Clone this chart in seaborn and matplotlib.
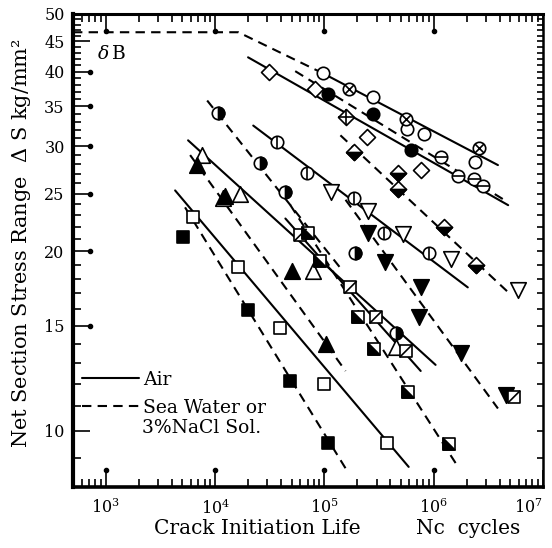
import numpy as np
import pandas as pd
import matplotlib
matplotlib.use("Agg")
import matplotlib.pyplot as plt
from matplotlib.markers import MarkerStyle
from matplotlib.path import Path
from matplotlib.lines import Line2D
from matplotlib.ticker import FixedLocator, FixedFormatter, NullFormatter, LogLocator
from matplotlib.transforms import ScaledTranslation
import seaborn as sns

# ---------------- test results: crack initiation life Nc vs stress range ----------------
open_circle_N = [9.6e4, 2.76e5, 5.65e5, 8.1e5, 2.38e6]
open_circle_S = [39.8, 36.3, 32.1, 31.4, 28.2]
cross_circle_N = [1.66e5, 5.54e5, 2.59e6]
cross_circle_S = [37.4, 33.3, 29.8]
solid_circle_N = [1.07e5, 2.76e5, 6.15e5]
solid_circle_S = [36.7, 34.0, 29.6]
open_diamond_N = [3.13e4, 8.26e4, 2.43e5, 7.6e5]
open_diamond_S = [39.9, 37.5, 31.1, 27.4]
cross_diamond_N = [1.56e5]
cross_diamond_S = [33.6]
half_diamond_N = [1.85e5, 4.67e5, 4.67e5, 1.24e6, 2.43e6]
half_diamond_S = [29.4, 27.1, 25.4, 22.0, 19.0]
hbar_circle_N = [1.16e6, 1.66e6, 2.33e6, 2.82e6]
hbar_circle_S = [28.8, 26.7, 26.4, 25.7]
half_circle_N = [1.07e4, 2.59e4, 4.39e4, 1.92e5, 4.48e5]
half_circle_S = [34.1, 28.1, 25.1, 19.9, 14.6]
vbar_circle_N = [3.71e4, 6.98e4, 1.85e5, 3.48e5, 8.99e5]
vbar_circle_S = [30.5, 27.1, 24.6, 21.5, 19.9]
open_tri_down_N = [1.14e5, 2.53e5, 5.2e5, 1.43e6, 5.9e6]
open_tri_down_S = [25.1, 23.4, 21.4, 19.4, 17.2]
solid_tri_down_N = [2.48e5, 3.55e5, 7.6e5, 7.28e5, 1.77e6, 4.58e6]
solid_tri_down_S = [21.5, 19.2, 17.4, 15.5, 13.5, 11.5]
open_tri_up_N = [7.6e3, 1.18e4, 1.7e4, 7.93e4, 4.48e5]
open_tri_up_S = [29.0, 24.6, 25.0, 18.5, 13.8]
solid_tri_up_N = [6.84e3, 1.24e4, 5.08e4, 1.04e5]
solid_tri_up_S = [27.9, 24.8, 18.5, 14.0]
open_square_N = [6.28e3, 1.63e4, 3.95e4, 1.0e5, 3.7e5]
open_square_S = [22.8, 18.8, 14.9, 12.0, 9.55]
solid_square_N = [5.09e3, 2.01e4, 4.88e4, 1.07e5]
solid_square_S = [21.1, 15.95, 12.1, 9.55]
slash_square_N = [6.02e4, 1.73e5, 2.94e5, 5.54e5, 5.42e6]
slash_square_S = [21.3, 17.4, 15.5, 13.6, 11.4]
half_square_N = [7.13e4, 9.18e4, 2.01e5, 2.82e5, 5.77e5, 1.37e6]
half_square_S = [21.5, 19.3, 15.5, 13.7, 11.6, 9.51]

# ---------------- fitted S-N lines (end points) ----------------
delta_b_N = [500, 1.63e4, 9.6e4]
delta_b_S = [46.6, 46.6, 39.8]
air_circle_N = [9.6e4, 3.87e6]
air_circle_S = [39.8, 27.9]
air_diamond_N = [2.0e4, 4.8e6]
air_diamond_S = [42.3, 23.9]
sea_circle_N = [5.4e4, 4.4e6]
sea_circle_S = [40.1, 24.4]
sea_diamond_N = [1.4e5, 5.1e6]
sea_diamond_S = [31.3, 16.9]
air_vbar_N = [2.23e4, 2.05e6]
air_vbar_S = [32.5, 17.4]
sea_half_circle_N = [8.45e3, 1.4e5]
sea_half_circle_S = [35.8, 18.75]
sea_tri_down_N = [1.56e5, 3.87e6]
sea_tri_down_S = [24.4, 10.9]
air_tri_up_N = [5.65e3, 1.04e6]
air_tri_up_S = [30.7, 12.9]
sea_tri_up_N = [5.9e3, 1.56e5]
sea_tri_up_S = [29.0, 12.6]
air_square_N = [4.3e3, 5.9e5]
air_square_S = [25.3, 8.7]
sea_square_N = [5.3e3, 1.63e5]
sea_square_S = [23.7, 8.54]
air_slash_square_N = [4.39e4, 7.6e5]
air_slash_square_S = [22.7, 12.6]
sea_half_square_N = [4.88e4, 1.69e6]
sea_half_square_S = [23.9, 8.67]

y_ticks = [10, 15, 20, 25, 30, 35, 40, 45, 50]
x_ticks = [1e3, 1e4, 1e5, 1e6, 1e7]
x_tick_labels = ["$10^3$", "$10^4$", "$10^5$", "$10^6$", "$10^7$"]

# ---------------- style ----------------
sns.set_theme(style="ticks", rc={"axes.edgecolor": "black", "xtick.color": "black",
                                 "ytick.color": "black", "text.color": "black"})
plt.rcParams["font.family"] = ["DejaVu Serif"]
plt.rcParams["mathtext.fontset"] = "dejavuserif"

fig = plt.figure(figsize=(5.52, 5.48), dpi=100)
ax = fig.add_axes([73 / 552, 1 - 487 / 548, 470 / 552, 473 / 548])
ax.set_xscale("log")
ax.set_yscale("log")

SOLID = "-"
DASHED = (0, (4.5, 3.0))
LW = 1.5

lines = [
    (delta_b_N, delta_b_S, DASHED),
    (air_circle_N, air_circle_S, SOLID),
    (air_diamond_N, air_diamond_S, SOLID),
    (sea_circle_N, sea_circle_S, DASHED),
    (sea_diamond_N, sea_diamond_S, DASHED),
    (air_vbar_N, air_vbar_S, SOLID),
    (sea_half_circle_N, sea_half_circle_S, DASHED),
    (sea_tri_down_N, sea_tri_down_S, DASHED),
    (air_tri_up_N, air_tri_up_S, SOLID),
    (sea_tri_up_N, sea_tri_up_S, DASHED),
    (air_square_N, air_square_S, SOLID),
    (sea_square_N, sea_square_S, DASHED),
    (air_slash_square_N, air_slash_square_S, SOLID),
    (sea_half_square_N, sea_half_square_S, DASHED),
]
for n, s, ls in lines:
    sns.lineplot(x=n, y=s, color="black", lw=LW, linestyle=ls,
                 estimator=None, sort=False, ax=ax, zorder=2)

# marker building blocks
SLASH = Path([(-1, -1), (1, 1)], [Path.MOVETO, Path.LINETO])
LOWER_LEFT = Path([(-1, 1), (-1, -1), (1, -1), (-1, 1)],
                  [Path.MOVETO, Path.LINETO, Path.LINETO, Path.CLOSEPOLY])

SC = 80     # circle / square area
ST = 125    # triangle area
SD = 66     # diamond area
EW = 1.2


def open_(m, s):
    return dict(marker=m, s=s, facecolor="white", edgecolor="black", linewidth=EW)


def filled(m, s):
    return dict(marker=m, s=s, facecolor="black", edgecolor="black", linewidth=EW)


def stroke(m, s):
    return dict(marker=m, s=s, color="black", linewidth=EW)


groups = [
    (open_circle_N, open_circle_S, [open_("o", SC)]),
    (cross_circle_N, cross_circle_S, [open_("o", SC), stroke("x", SC * 0.5)]),
    (solid_circle_N, solid_circle_S, [filled("o", SC)]),
    (open_diamond_N, open_diamond_S, [open_("D", SD)]),
    (cross_diamond_N, cross_diamond_S, [open_("D", SD), stroke("+", SD * 2.0)]),
    (half_diamond_N, half_diamond_S, [open_("D", SD),
                                      filled(MarkerStyle("D", fillstyle="bottom"), SD)]),
    (hbar_circle_N, hbar_circle_S, [open_("o", SC), stroke("_", SC)]),
    (half_circle_N, half_circle_S, [open_("o", SC),
                                    filled(MarkerStyle("o", fillstyle="right"), SC)]),
    (vbar_circle_N, vbar_circle_S, [open_("o", SC), stroke("|", SC)]),
    (open_tri_down_N, open_tri_down_S, [open_("v", ST)]),
    (solid_tri_down_N, solid_tri_down_S, [filled("v", ST)]),
    (open_tri_up_N, open_tri_up_S, [open_("^", ST)]),
    (solid_tri_up_N, solid_tri_up_S, [filled("^", ST)]),
    (open_square_N, open_square_S, [open_("s", SC)]),
    (solid_square_N, solid_square_S, [filled("s", SC)]),
    (slash_square_N, slash_square_S, [open_("s", SC),
                                      dict(marker=SLASH, s=SC, facecolor="none",
                                           edgecolor="black", linewidth=EW)]),
    (half_square_N, half_square_S, [open_("s", SC), filled(LOWER_LEFT, SC)]),
]
for n, s, layers in groups:
    df = pd.DataFrame({"N": n, "S": s})
    for k, kw in enumerate(layers):
        sns.scatterplot(data=df, x="N", y="S", ax=ax, zorder=3 + k, legend=False, **kw)

# ---------------- axes ----------------
ax.set_xlim(500, 1e7)
ax.set_ylim(8.05, 50)
ax.yaxis.set_major_locator(FixedLocator(y_ticks))
ax.yaxis.set_major_formatter(FixedFormatter([str(v) for v in y_ticks]))
ax.yaxis.set_minor_locator(FixedLocator([v for v in range(9, 50) if v % 5]))
ax.yaxis.set_minor_formatter(NullFormatter())
ax.xaxis.set_major_locator(FixedLocator(x_ticks))
ax.xaxis.set_major_formatter(FixedFormatter(x_tick_labels))
ax.xaxis.set_minor_locator(LogLocator(base=10, subs=range(2, 10), numticks=20))
ax.xaxis.set_minor_formatter(NullFormatter())
ax.tick_params(which="both", direction="in", top=True, right=True, width=1.2,
               labelsize=11.5)
ax.tick_params(which="major", length=12)
ax.tick_params(which="minor", length=6)
ax.tick_params(axis="y", which="major", pad=6)
ax.tick_params(axis="x", which="major", pad=8)
ax.set_xlabel("")
ax.set_ylabel("")
for side, w in (("left", 3.0), ("bottom", 2.6), ("top", 2.2), ("right", 1.8)):
    ax.spines[side].set_linewidth(w)
    ax.spines[side].set_color("black")
fig.canvas.draw()
ax.get_xticklabels()[-1].set_horizontalalignment("right")
# the right-hand scale only carries short ticks
for t in ax.yaxis.get_major_ticks() + ax.yaxis.get_minor_ticks():
    t.tick2line.set_markersize(4)

# dotted tips of the major ticks
tip = 12 / 72
ytr = ax.get_yaxis_transform() + ScaledTranslation(tip, 0, fig.dpi_scale_trans)
ax.plot([0] * 6, [15, 20, 25, 30, 35, 40], "o", color="black", ms=3,
        transform=ytr, clip_on=False, zorder=6)
xtr = ax.get_xaxis_transform() + ScaledTranslation(0, tip, fig.dpi_scale_trans)
ax.plot(x_ticks[:4], [0] * 4, "o", color="black", ms=3,
        transform=xtr, clip_on=False, zorder=6)
xtr2 = ax.get_xaxis_transform() + ScaledTranslation(0, -tip, fig.dpi_scale_trans)
ax.plot(x_ticks[:4], [1] * 4, "o", color="black", ms=3,
        transform=xtr2, clip_on=False, zorder=6)

# ---------------- text ----------------
ax.text(0.052, 0.915, r"$\delta\,$B", transform=ax.transAxes, fontsize=13.5,
        ha="left", va="center")
fig.text(22 / 552, 1 - 243 / 548, r"Net Section Stress Range  $\mathit{\Delta}$ S kg/mm²",
         rotation=90, ha="center", va="center", fontsize=15)
fig.text(257 / 552, 1 - 528 / 548, "Crack Initiation Life", ha="center", va="center",
         fontsize=14.5)
fig.text(468 / 552, 1 - 528 / 548, "Nc  cycles", ha="center", va="center", fontsize=14.5)

handles = [Line2D([], [], color="black", lw=LW, linestyle=SOLID),
           Line2D([], [], color="black", lw=LW, linestyle=DASHED)]
leg = ax.legend(handles, ["Air", "Sea Water or"], loc="upper left",
                bbox_to_anchor=(0.02, 0.246), frameon=False, fontsize=13.5,
                handlelength=3.0, handletextpad=0.25, labelspacing=0.55,
                borderaxespad=0, borderpad=0)
ax.text(0.147, 0.125, "3%NaCl Sol.", transform=ax.transAxes, fontsize=13.5,
        ha="left", va="center")

fig.savefig("out.png", dpi=100)
